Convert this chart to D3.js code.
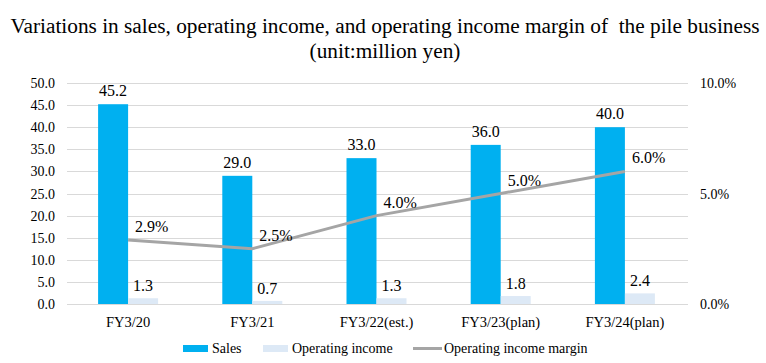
<!DOCTYPE html>
<html>
<head>
<meta charset="utf-8">
<script src="https://cdn.jsdelivr.net/npm/d3@7"></script>
<style>
  body { margin: 0; background: #fff; }
</style>
</head>
<body>
<svg id="chart" width="766" height="363"></svg>
<script>
'use strict';

var categories = ['FY3/20', 'FY3/21', 'FY3/22(est.)', 'FY3/23(plan)', 'FY3/24(plan)'];
var sales = [45.2, 29.0, 33.0, 36.0, 40.0];
var income = [1.3, 0.7, 1.3, 1.8, 2.4];
var margin = [2.9, 2.5, 4.0, 5.0, 6.0];
var leftTicks = [0, 5, 10, 15, 20, 25, 30, 35, 40, 45, 50];
var rightTicks = [0, 5, 10];
var seriesNames = ['Sales', 'Operating income', 'Operating income margin'];

var svg = d3.select('#chart')
  .attr('font-family', "'Liberation Serif', 'Times New Roman', Times, serif");
var plotLeft = 67, plotRight = 688, plotTop = 83, plotBottom = 304;

var x = d3.scaleBand().domain(categories).range([plotLeft, plotRight]);
var y = d3.scaleLinear().domain([0, 50]).range([plotBottom, plotTop]);
var y2 = d3.scaleLinear().domain([0, 10]).range([plotBottom, plotTop]);
var barW = 30;

// title
svg.append('text').attr('x', 385).attr('y', 33).attr('text-anchor', 'middle')
  .attr('font-size', 21.3)
  .style('white-space', 'pre')
  .text('Variations in sales, operating income, and operating income margin of  the pile business');
svg.append('text').attr('x', 385).attr('y', 58).attr('text-anchor', 'middle')
  .attr('font-size', 21.3)
  .text('(unit:million yen)');

// grid
svg.append('g').selectAll('line').data(leftTicks).enter().append('line')
  .attr('x1', plotLeft).attr('x2', plotRight)
  .attr('y1', function(d) { return Math.round(y(d)) + 0.5; })
  .attr('y2', function(d) { return Math.round(y(d)) + 0.5; })
  .attr('stroke', '#d9d9d9').attr('stroke-width', 1);

// left axis labels
svg.append('g').selectAll('text').data(leftTicks).enter().append('text')
  .attr('x', 55).attr('y', function(d) { return y(d) + 5; })
  .attr('text-anchor', 'end').attr('font-size', 14)
  .text(function(d) { return d.toFixed(1); });

// right axis labels
svg.append('g').selectAll('text').data(rightTicks).enter().append('text')
  .attr('x', 700).attr('y', function(d) { return y2(d) + 5; })
  .attr('font-size', 14)
  .text(function(d) { return d.toFixed(1) + '%'; });

// category labels
svg.append('g').selectAll('text').data(categories).enter().append('text')
  .attr('x', function(d) { return x(d) + x.bandwidth() / 2 - 1; })
  .attr('y', 327).attr('text-anchor', 'middle').attr('font-size', 14.5)
  .text(function(d) { return d; });

function cx(i) { return x(categories[i]) + x.bandwidth() / 2 - 1; }

// sales bars
svg.append('g').selectAll('rect').data(sales).enter().append('rect')
  .attr('x', function(d, i) { return cx(i) - barW; })
  .attr('y', function(d) { return y(d); })
  .attr('width', barW)
  .attr('height', function(d) { return plotBottom - y(d); })
  .attr('fill', '#00b0f0');

// income bars
svg.append('g').selectAll('rect').data(income).enter().append('rect')
  .attr('x', function(d, i) { return cx(i); })
  .attr('y', function(d) { return y(d); })
  .attr('width', barW)
  .attr('height', function(d) { return plotBottom - y(d); })
  .attr('fill', '#dde9f6');

// bar labels
svg.append('g').selectAll('text').data(sales).enter().append('text')
  .attr('x', function(d, i) { return cx(i) - barW / 2; })
  .attr('y', function(d) { return y(d) - 8; })
  .attr('text-anchor', 'middle').attr('font-size', 16)
  .text(function(d) { return d.toFixed(1); });

svg.append('g').selectAll('text').data(income).enter().append('text')
  .attr('x', function(d, i) { return cx(i) + barW / 2; })
  .attr('y', function(d) { return y(d) - 7; })
  .attr('text-anchor', 'middle').attr('font-size', 16)
  .text(function(d) { return d.toFixed(1); });

// margin line
var line = d3.line()
  .x(function(d, i) { return cx(i); })
  .y(function(d) { return y2(d); });

svg.append('path').datum(margin)
  .attr('d', line).attr('fill', 'none')
  .attr('stroke', '#a5a5a5').attr('stroke-width', 3);

svg.append('g').selectAll('text').data(margin).enter().append('text')
  .attr('x', function(d, i) { return cx(i) + 7; })
  .attr('y', function(d) { return y2(d) - 8; })
  .attr('font-size', 16)
  .text(function(d) { return d.toFixed(1) + '%'; });

// legend
var lg = svg.append('g');
lg.append('rect').attr('x', 183).attr('y', 345).attr('width', 25).attr('height', 7).attr('fill', '#00b0f0');
lg.append('text').attr('x', 212).attr('y', 353).attr('font-size', 14).text(seriesNames[0]);
lg.append('rect').attr('x', 263).attr('y', 345).attr('width', 25).attr('height', 7).attr('fill', '#dde9f6');
lg.append('text').attr('x', 292).attr('y', 353).attr('font-size', 14).text(seriesNames[1]);
lg.append('line').attr('x1', 413).attr('x2', 442).attr('y1', 348.5).attr('y2', 348.5)
  .attr('stroke', '#a5a5a5').attr('stroke-width', 3);
lg.append('text').attr('x', 444).attr('y', 353).attr('font-size', 14).text(seriesNames[2]);
</script>
</body>
</html>
